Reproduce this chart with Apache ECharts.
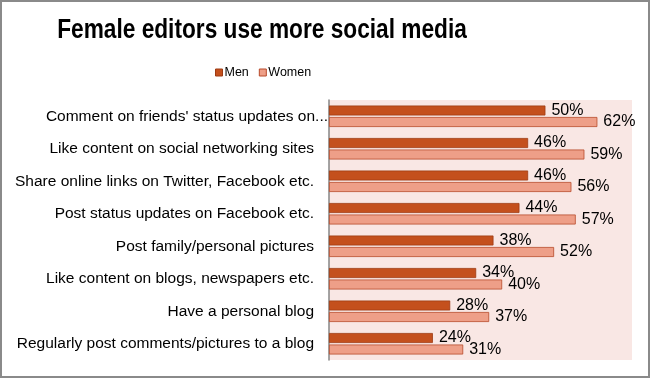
<!DOCTYPE html>
<html>
<head>
<meta charset="utf-8">
<script src="https://cdn.jsdelivr.net/npm/echarts@6/dist/echarts.min.js"></script>
<style>
html,body{margin:0;padding:0;background:#fff;}
#c{width:650px;height:378px;box-sizing:border-box;border:2px solid #8a8a8a;}
</style>
</head>
<body>
<div id="c"></div>
<script>
const categories = [
  "Comment on friends' status updates on Facebook etc.",
  "Like content on social networking sites",
  "Share online links on Twitter, Facebook etc.",
  "Post status updates on Facebook etc.",
  "Post family/personal pictures",
  "Like content on blogs, newspapers etc.",
  "Have a personal blog",
  "Regularly post comments/pictures to a blog"
];
const men = [50, 46, 46, 44, 38, 34, 28, 24];
const women = [62, 59, 56, 57, 52, 40, 37, 31];
const seriesNames = ["Men", "Women"];
const titleText = 'Female editors use more social media';

function shorten(s) {
  if (s.length <= 46) return s;
  const cut = s.substring(0, 40);
  return '{cut|' + cut.substring(0, cut.lastIndexOf(' ')) + '...}';
}

const chart = echarts.init(document.getElementById('c'), null, {renderer: 'canvas'});
const font = 'Liberation Sans, Arial, sans-serif';
chart.setOption({
  animation: false,
  graphic: [{
    type: 'text', x: 260, y: 14, scaleX: 0.81,
    style: {
      text: titleText, textAlign: 'center', textVerticalAlign: 'top',
      fontFamily: font, fontWeight: 'bold', fontSize: 28, fill: '#000'
    }
  }],
  legend: {
    data: seriesNames,
    top: 59, left: 208,
    itemWidth: 7, itemHeight: 7, itemGap: 10,
    icon: 'rect',
    itemStyle: {borderWidth: 1},
    textStyle: {fontFamily: font, fontSize: 12.5, color: '#000', padding: [0,0,0,-3]}
  },
  grid: {left: 327, right: 16, top: 98, bottom: 16, containLabel: false,
         show: true, backgroundColor: '#F9E7E4', borderWidth: 0},
  xAxis: {
    type: 'value', min: 0, max: 70, show: false
  },
  yAxis: {
    type: 'category', data: categories, inverse: true,
    axisLine: {show: true, lineStyle: {color: '#868686', width: 1.5}},
    axisTick: {show: false},
    axisLabel: {
      fontFamily: font, fontSize: 15.5, color: '#000', margin: 15,
      formatter: shorten,
      rich: {
        cut: {fontFamily: font, fontSize: 15.5, color: '#000', padding: [0, -14, 0, 0]}
      }
    }
  },
  series: [
    {
      name: seriesNames[0], type: 'bar', data: men,
      barWidth: 10, barGap: '15%',
      itemStyle: {color: '#C4501D', borderColor: '#9E3A12', borderWidth: 0.8},
      label: {show: true, position: 'right', distance: 6, formatter: '{c}%',
              fontFamily: font, fontSize: 16, color: '#000'}
    },
    {
      name: seriesNames[1], type: 'bar', data: women,
      barWidth: 10,
      itemStyle: {color: '#EE9F88', borderColor: '#B84A2A', borderWidth: 0.8},
      label: {show: true, position: 'right', distance: 6, formatter: '{c}%',
              fontFamily: font, fontSize: 16, color: '#000'}
    }
  ]
});
</script>
</body>
</html>
